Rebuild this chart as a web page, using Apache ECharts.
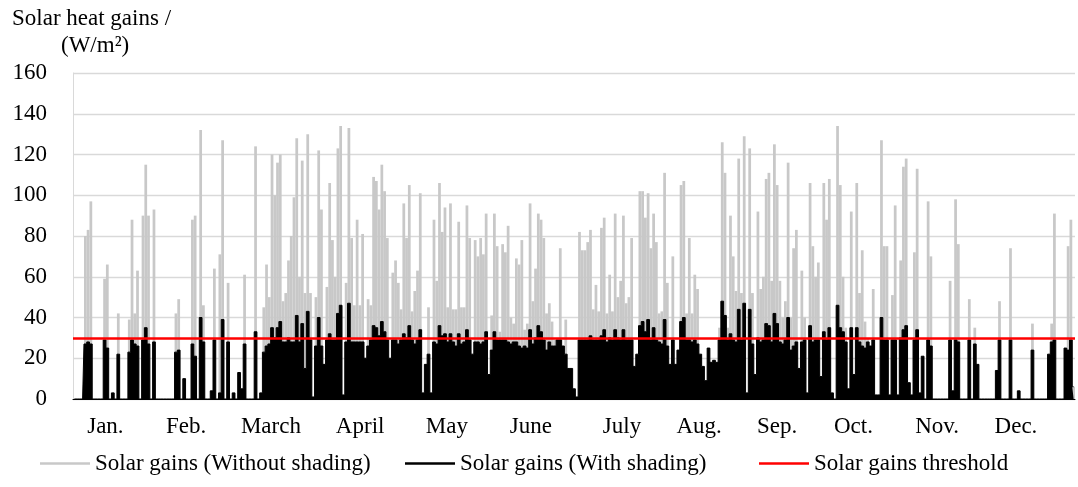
<!DOCTYPE html>
<html>
<head>
<meta charset="utf-8">
<script src="https://cdn.jsdelivr.net/npm/echarts@6/dist/echarts.min.js"></script>
<style>
  html, body { margin: 0; padding: 0; background: #fff; }
  #chart { width: 1078px; height: 487px; }
</style>
</head>
<body>
<div id="chart"></div>
<script>
// Daily peak solar heat gains (W/m²), day 1..365
const withoutShading = [
  0,0,0,0,80,83,97,0,0,0,
  0,59,66,0,3,0,42,0,0,0,
  39,88,42,63,0,90,115,90,0,93,
  0,0,0,0,0,0,0,42,49,0,
  10,0,0,88,90,0,132,46,0,0,
  4,64,0,71,127,0,57,0,3,0,
  13,5,61,0,0,0,124,0,3,45,
  66,50,120,100,116,120,48,52,68,80,
  99,128,60,117,52,130,52,1,50,122,
  93,17,55,106,78,60,123,134,2,57,
  133,79,46,88,46,81,20,49,46,109,
  107,93,115,102,79,20,62,68,57,44,
  96,79,105,43,53,63,101,3,17,45,
  3,88,58,106,82,94,45,96,44,44,
  87,45,45,95,79,22,78,70,79,71,
  91,12,41,91,75,33,76,72,85,40,
  37,69,66,78,34,37,96,48,64,91,
  88,79,42,47,38,29,30,74,26,39,
  15,15,5,1,82,73,73,77,83,44,
  56,43,84,89,42,61,43,91,50,58,
  90,47,50,79,16,22,102,102,89,101,
  74,91,77,42,43,111,57,17,70,17,
  24,105,107,42,79,42,61,54,22,16,
  9,25,18,19,18,35,126,111,35,90,
  70,53,118,52,129,3,123,52,12,92,
  54,60,108,111,58,125,105,58,40,48,
  116,40,74,83,15,63,40,3,106,75,
  60,67,11,106,88,108,3,0,134,105,
  60,35,5,92,12,106,52,73,38,30,
  26,54,2,2,127,75,75,2,51,95,
  2,68,114,118,8,2,72,113,3,21,
  0,97,70,0,0,0,0,0,0,58,
  4,98,76,0,0,0,49,0,35,17,
  0,0,0,0,0,0,14,48,0,0,
  0,74,0,0,4,0,0,0,0,37,
  0,0,0,0,0,22,37,91,0,0,
  0,25,75,88,6
];
const withShading = [
  0,0,0,0,27,28,27,0,0,0,
  0,29,25,0,3,0,22,0,0,0,
  23,29,27,26,0,29,35,27,0,28,
  0,0,0,0,0,0,0,23,24,0,
  10,0,0,27,21,0,40,28,0,0,
  4,29,0,3,39,0,28,0,3,0,
  13,5,27,0,0,0,33,0,3,23,
  26,27,35,30,35,38,28,28,30,28,
  28,41,28,37,15,43,29,1,26,40,
  26,17,29,32,29,29,42,46,2,28,
  47,28,28,28,28,28,20,26,29,36,
  35,31,38,33,29,20,29,29,27,29,
  32,30,36,29,27,29,34,3,17,22,
  3,28,27,36,31,32,28,32,28,26,
  32,27,28,34,29,22,28,28,27,28,
  33,12,24,33,29,29,29,29,28,27,
  28,28,26,25,26,25,34,27,30,36,
  33,29,24,28,26,26,29,29,26,22,
  15,15,5,1,29,29,29,29,31,29,
  29,29,31,34,28,30,29,34,30,29,
  34,29,29,29,16,22,36,38,33,39,
  29,35,29,28,27,39,26,17,29,17,
  24,38,40,29,29,28,29,27,22,16,
  9,25,18,19,18,29,48,41,29,32,
  29,28,44,29,47,3,44,27,12,30,
  28,29,37,36,28,42,37,28,27,29,
  40,24,26,28,15,28,29,3,36,28,
  29,29,11,33,29,35,3,0,46,35,
  33,28,5,35,12,35,28,26,25,28,
  26,29,2,2,40,29,29,2,29,29,
  2,30,34,36,8,2,29,34,3,21,
  0,29,26,0,0,0,0,0,0,29,
  4,29,28,0,0,0,29,0,27,17,
  0,0,0,0,0,0,14,29,0,0,
  0,29,0,0,4,0,0,0,0,24,
  0,0,0,0,0,22,28,29,0,0,
  0,25,24,29,6
];
const threshold = 30;
const monthLabels = ['Jan.', 'Feb.', 'March', 'April', 'May', 'June', 'July', 'Aug.', 'Sep.', 'Oct.', 'Nov.', 'Dec.'];
const monthLabelDay = [11.8, 41.2, 72.1, 104.6, 136.2, 166.8, 200.0, 228.1, 256.5, 284.3, 314.8, 343.5];
const yTicks = { min: 0, max: 160, interval: 20 };
const seriesNames = ['Solar gains (Without shading)', 'Solar gains (With shading)', 'Solar gains threshold'];

const days = withoutShading.map((_, i) => i + 1);
const FONT = '"Liberation Serif", "Times New Roman", serif';
const legendText = { fontFamily: FONT, fontSize: 23, color: '#000' };
const legendBase = { top: 452, padding: 0, itemWidth: 50, itemHeight: 2.5, icon: 'rect', textStyle: legendText, selectedMode: false };

const chart = echarts.init(document.getElementById('chart'), null, { renderer: 'canvas' });
chart.setOption({
  animation: false,
  backgroundColor: '#ffffff',
  textStyle: { fontFamily: FONT, color: '#000' },
  title: [
    { text: 'Solar heat gains /', left: 7, top: 2, textStyle: { fontFamily: FONT, fontSize: 23, fontWeight: 'normal', color: '#000' } },
    { text: '(W/m²)', left: 56, top: 29, textStyle: { fontFamily: FONT, fontSize: 23, fontWeight: 'normal', color: '#000' } }
  ],
  legend: [
    Object.assign({ left: 40, data: [seriesNames[0]] }, legendBase),
    Object.assign({ left: 405, data: [seriesNames[1]] }, legendBase),
    Object.assign({ left: 759, data: [seriesNames[2]] }, legendBase)
  ],
  grid: { left: 73, right: 3, top: 73, bottom: 88, containLabel: false },
  xAxis: [
    {
      type: 'category', data: days, boundaryGap: true,
      axisLine: { show: true, lineStyle: { color: '#000', width: 1 } },
      axisTick: { show: false }, axisLabel: { show: false }, splitLine: { show: false }
    },
    {
      type: 'value', min: 0, max: 365, position: 'bottom',
      axisLine: { show: false }, axisTick: { show: false }, splitLine: { show: false },
      axisLabel: {
        customValues: monthLabelDay,
        formatter: (v) => { const i = monthLabelDay.indexOf(v); return i >= 0 ? monthLabels[i] : ''; },
        fontFamily: FONT, fontSize: 23, color: '#000', margin: 16
      }
    }
  ],
  yAxis: {
    type: 'value', min: yTicks.min, max: yTicks.max, interval: yTicks.interval,
    axisLine: { show: true, lineStyle: { color: '#d9d9d9', width: 1 } },
    axisTick: { show: false },
    axisLabel: { fontFamily: FONT, fontSize: 23, color: '#000', margin: 26 },
    splitLine: { show: true, lineStyle: { color: '#d9d9d9', width: 1.3 } }
  },
  series: [
    {
      name: seriesNames[0], type: 'bar', xAxisIndex: 0, data: withoutShading,
      itemStyle: { color: '#c8c8c8' }, barCategoryGap: '0%', barGap: '-100%',
      emphasis: { disabled: true }, silent: true, z: 2
    },
    {
      name: seriesNames[1], type: 'line', xAxisIndex: 0, data: withShading,
      step: 'middle', showSymbol: false, symbol: 'none',
      itemStyle: { color: '#000000' },
      lineStyle: { color: '#000000', width: 1 },
      areaStyle: { color: '#000000', opacity: 1 },
      emphasis: { disabled: true }, silent: true, z: 3
    },
    {
      name: seriesNames[2], type: 'line', xAxisIndex: 0, data: [],
      itemStyle: { color: '#ff0000' }, lineStyle: { color: '#ff0000', width: 2.5 },
      showSymbol: false, z: 5,
      markLine: {
        silent: true, symbol: 'none', label: { show: false },
        lineStyle: { color: '#ff0000', width: 2.5, type: 'solid' },
        data: [{ yAxis: threshold }]
      }
    }
  ]
});
</script>
</body>
</html>
